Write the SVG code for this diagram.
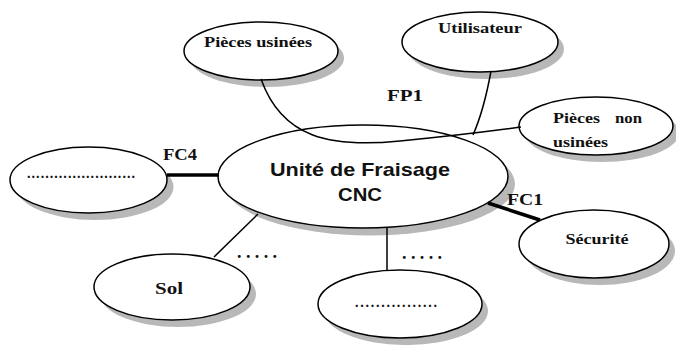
<svg xmlns="http://www.w3.org/2000/svg" width="676" height="345" viewBox="0 0 676 345">
<style>
.el{fill:#fff;stroke:#000;stroke-width:1.5}
.ln{fill:none;stroke:#000;stroke-width:1.5}
.thick{fill:none;stroke:#000;stroke-width:3.5}
.lbl{font-family:"Liberation Serif","Times New Roman",serif;font-weight:bold;fill:#111}
.main{font-family:"Liberation Sans",Arial,sans-serif;font-weight:bold;fill:#111}
.dots{font-family:"Liberation Serif",serif;font-weight:bold;fill:#111}
</style>
<rect width="676" height="345" fill="#fff"/>
<g id="shadows">
<path fill="#b8b8b8" d="M 190 58 A 77 29 0 1 0 344 58 A 77 29 0 1 0 190 58 Z"/>
<path fill="#b8b8b8" d="M 408 49 A 78 30 0 1 0 564 49 A 78 30 0 1 0 408 49 Z"/>
<path fill="#b8b8b8" d="M 525 133 A 77 29 0 1 0 679 133 A 77 29 0 1 0 525 133 Z"/>
<path fill="#b8b8b8" d="M 16.5 187 A 78.5 33 0 1 0 173.5 187 A 78.5 33 0 1 0 16.5 187 Z"/>
<path fill="#b8b8b8" d="M 525 251 A 75 34 0 1 0 675 251 A 75 34 0 1 0 525 251 Z"/>
<path fill="#b8b8b8" d="M 100 294 A 78 33 0 1 0 256 294 A 78 33 0 1 0 100 294 Z"/>
<path fill="#b8b8b8" d="M 324 311 A 82 34 0 1 0 488 311 A 82 34 0 1 0 324 311 Z"/>
<path fill="#b8b8b8" d="M 225 184 A 145 51.5 0 1 0 515 184 A 145 51.5 0 1 0 225 184 Z"/>
</g>
<g id="node-pieces-usinees">
<ellipse class="el" cx="261" cy="51" rx="77" ry="29"/>
<text class="lbl" x="258" y="47" font-size="14" text-anchor="middle" textLength="108" lengthAdjust="spacingAndGlyphs">Pièces usinées</text>
</g>
<g id="node-utilisateur">
<ellipse class="el" cx="480" cy="42" rx="78" ry="30"/>
<text class="lbl" x="480" y="33" font-size="14" text-anchor="middle" textLength="84" lengthAdjust="spacingAndGlyphs">Utilisateur</text>
</g>
<g id="node-pieces-non-usinees">
<ellipse class="el" cx="596" cy="126" rx="77" ry="29"/>
<text class="lbl" x="553" y="123" font-size="14" textLength="47" lengthAdjust="spacingAndGlyphs">Pièces</text>
<text class="lbl" x="615" y="123" font-size="14" textLength="27" lengthAdjust="spacingAndGlyphs">non</text>
<text class="lbl" x="553" y="147" font-size="14" textLength="55" lengthAdjust="spacingAndGlyphs">usinées</text>
</g>
<g id="node-left">
<ellipse class="el" cx="88.5" cy="180" rx="78.5" ry="33"/>
<text class="dots" x="27" y="178" font-size="14" textLength="108" lengthAdjust="spacing">........................</text>
</g>
<g id="node-securite">
<ellipse class="el" cx="594" cy="244" rx="75" ry="34"/>
<text class="lbl" x="597" y="244" font-size="14" text-anchor="middle" textLength="63" lengthAdjust="spacingAndGlyphs">Sécurité</text>
</g>
<g id="node-sol">
<ellipse class="el" cx="172" cy="287" rx="78" ry="33"/>
<text class="lbl" x="169" y="294" font-size="16" text-anchor="middle" textLength="28" lengthAdjust="spacingAndGlyphs">Sol</text>
</g>
<g id="node-bottom">
<ellipse class="el" cx="400" cy="304" rx="82" ry="34"/>
<text class="dots" x="355" y="307" font-size="14" textLength="82" lengthAdjust="spacing">................</text>
</g>
<g id="node-centre">
<ellipse class="el" cx="363" cy="176.5" rx="145" ry="51.5"/>
<text class="main" x="360" y="176" font-size="19" text-anchor="middle" textLength="180" lengthAdjust="spacingAndGlyphs">Unité de Fraisage</text>
<text class="main" x="360" y="201" font-size="19" text-anchor="middle" textLength="44" lengthAdjust="spacingAndGlyphs">CNC</text>
</g>
<g id="connectors">
<path class="ln" d="M 261 79 C 282 138, 330 148, 400 141 S 490 131, 521 127"/>
<path class="ln" d="M 491 71 Q 484 110 473 135"/>
<line class="thick" x1="167" y1="175" x2="219" y2="175"/>
<line class="thick" x1="488" y1="203" x2="540" y2="220"/>
<line class="ln" x1="258" y1="214" x2="214" y2="257"/>
<line class="ln" x1="387" y1="228" x2="387" y2="270"/>
</g>
<g id="labels">
<text class="lbl" x="387" y="101" font-size="16" textLength="36" lengthAdjust="spacingAndGlyphs">FP1</text>
<text class="lbl" x="163" y="160" font-size="16" textLength="34" lengthAdjust="spacingAndGlyphs">FC4</text>
<text class="lbl" x="507" y="205" font-size="16" textLength="36" lengthAdjust="spacingAndGlyphs">FC1</text>
<text class="dots" x="237" y="258" font-size="18" textLength="40" lengthAdjust="spacing">.....</text>
<text class="dots" x="402" y="259" font-size="18" textLength="40" lengthAdjust="spacing">.....</text>
</g>
</svg>
